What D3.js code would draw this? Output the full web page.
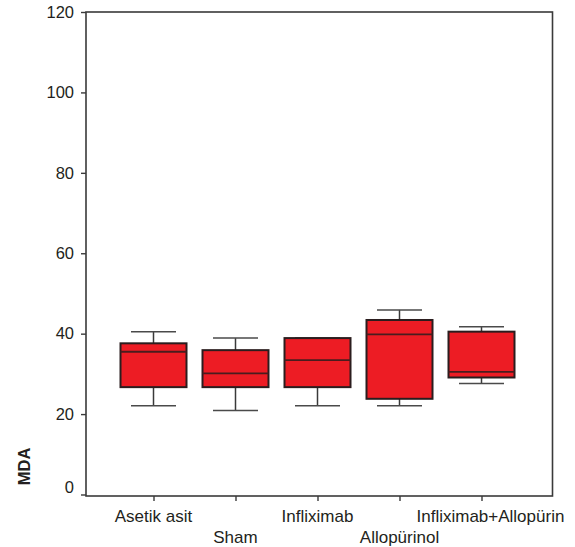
<!DOCTYPE html>
<html>
<head>
<meta charset="utf-8">
<script src="https://cdn.jsdelivr.net/npm/d3@7"></script>
<style>
  html, body { margin: 0; padding: 0; background: #fff; }
  svg { display: block; }
  text { font-family: "Liberation Sans", Arial, Helvetica, sans-serif; fill: #231f20; }
</style>
</head>
<body>
<svg id="chart" width="575" height="547"></svg>
<script>
// MDA levels per group: whisker ends, quartiles and median
const categories = ["Asetik asit", "Sham", "Infliximab", "Allopürinol", "Infliximab+Allopürin"];
const whiskerLow  = [22.1, 20.9, 22.1, 22.1, 27.6];
const q1          = [26.7, 26.7, 26.7, 23.8, 29.1];
const medians     = [35.5, 30.1, 33.4, 39.8, 30.5];
const q3          = [37.6, 35.9, 38.9, 43.4, 40.5];
const whiskerHigh = [40.5, 38.9, 38.9, 45.9, 41.7];
const yTicks = [0, 20, 40, 60, 80, 100, 120];
const yTitle = "MDA";

const svg = d3.select("#chart");

const frame = { left: 86, right: 552.5, top: 12, bottom: 496 };

const x = d3.scalePoint()
  .domain(categories)
  .range([153.5, 481.5]);

const y = d3.scaleLinear()
  .domain([0, 120])
  .range([494.5, 12]);

const boxW = 66, capW = 45;
const ink = "#231f20";

// plot frame
svg.append("rect")
  .attr("x", frame.left).attr("y", frame.top)
  .attr("width", frame.right - frame.left)
  .attr("height", frame.bottom - frame.top)
  .attr("fill", "none")
  .attr("stroke", "#3a3a3a")
  .attr("stroke-width", 1.6);

// y axis ticks and labels
const yAxis = svg.append("g")
  .attr("transform", `translate(${frame.left},0)`)
  .call(d3.axisLeft(y).tickValues(yTicks).tickSize(5).tickPadding(7).tickFormat(d3.format("d")));
yAxis.select(".domain").remove();
yAxis.selectAll(".tick line").attr("stroke", "#3a3a3a").attr("stroke-width", 1.4);
yAxis.selectAll(".tick text")
  .attr("font-size", 16.5)
  .attr("font-family", "Liberation Sans, Arial, sans-serif")
  .attr("fill", ink)
  // the zero label sits a little above the baseline so it clears the x axis
  .attr("y", d => d === 0 ? -7 : 0);

// x axis ticks
const xAxis = svg.append("g")
  .attr("transform", `translate(0,${frame.bottom})`)
  .call(d3.axisBottom(x).tickSize(5).tickFormat(""));
xAxis.select(".domain").remove();
xAxis.selectAll(".tick line").attr("stroke", "#3a3a3a").attr("stroke-width", 1.4);

// category labels, alternating rows
const labelPos = categories.map((c, i) => {
  const last = i === categories.length - 1;
  return {
    text: c,
    x: last ? 416.5 : x(c),
    y: i % 2 === 0 ? 522 : 542.5,
    anchor: last ? "start" : "middle"
  };
});
svg.append("g").selectAll("text")
  .data(labelPos)
  .join("text")
  .attr("x", d => d.x)
  .attr("y", d => d.y)
  .attr("text-anchor", d => d.anchor)
  .attr("font-size", 17)
  .text(d => d.text);

// y axis title
svg.append("text")
  .attr("transform", "translate(30,466.5) rotate(-90)")
  .attr("text-anchor", "middle")
  .attr("font-size", 16.5)
  .attr("font-weight", "bold")
  .text(yTitle);

// box plots
const boxes = svg.append("g").selectAll("g")
  .data(categories.map((c, i) => ({
    c, lo: whiskerLow[i], q1: q1[i], med: medians[i], q3: q3[i], hi: whiskerHigh[i]
  })))
  .join("g")
  .attr("transform", d => `translate(${x(d.c)},0)`);

// whisker stems
boxes.append("line")
  .attr("x1", 0).attr("x2", 0)
  .attr("y1", d => y(d.hi)).attr("y2", d => y(d.q3))
  .attr("stroke", "#3a3a3a").attr("stroke-width", 1.5);
boxes.append("line")
  .attr("x1", 0).attr("x2", 0)
  .attr("y1", d => y(d.q1)).attr("y2", d => y(d.lo))
  .attr("stroke", "#3a3a3a").attr("stroke-width", 1.5);

// whisker caps
boxes.append("line")
  .attr("x1", -capW / 2).attr("x2", capW / 2)
  .attr("y1", d => y(d.hi)).attr("y2", d => y(d.hi))
  .attr("stroke", "#4a4a4a").attr("stroke-width", 1.5);
boxes.append("line")
  .attr("x1", -capW / 2).attr("x2", capW / 2)
  .attr("y1", d => y(d.lo)).attr("y2", d => y(d.lo))
  .attr("stroke", "#4a4a4a").attr("stroke-width", 1.5);

// interquartile boxes
boxes.append("rect")
  .attr("x", -boxW / 2)
  .attr("width", boxW)
  .attr("y", d => y(d.q3))
  .attr("height", d => y(d.q1) - y(d.q3))
  .attr("fill", "#ed1c24")
  .attr("stroke", "#2b1d1e")
  .attr("stroke-width", 2);

// medians
boxes.append("line")
  .attr("x1", -boxW / 2).attr("x2", boxW / 2)
  .attr("y1", d => y(d.med)).attr("y2", d => y(d.med))
  .attr("stroke", "#4a1c1e").attr("stroke-width", 1.8);
</script>
</body>
</html>
